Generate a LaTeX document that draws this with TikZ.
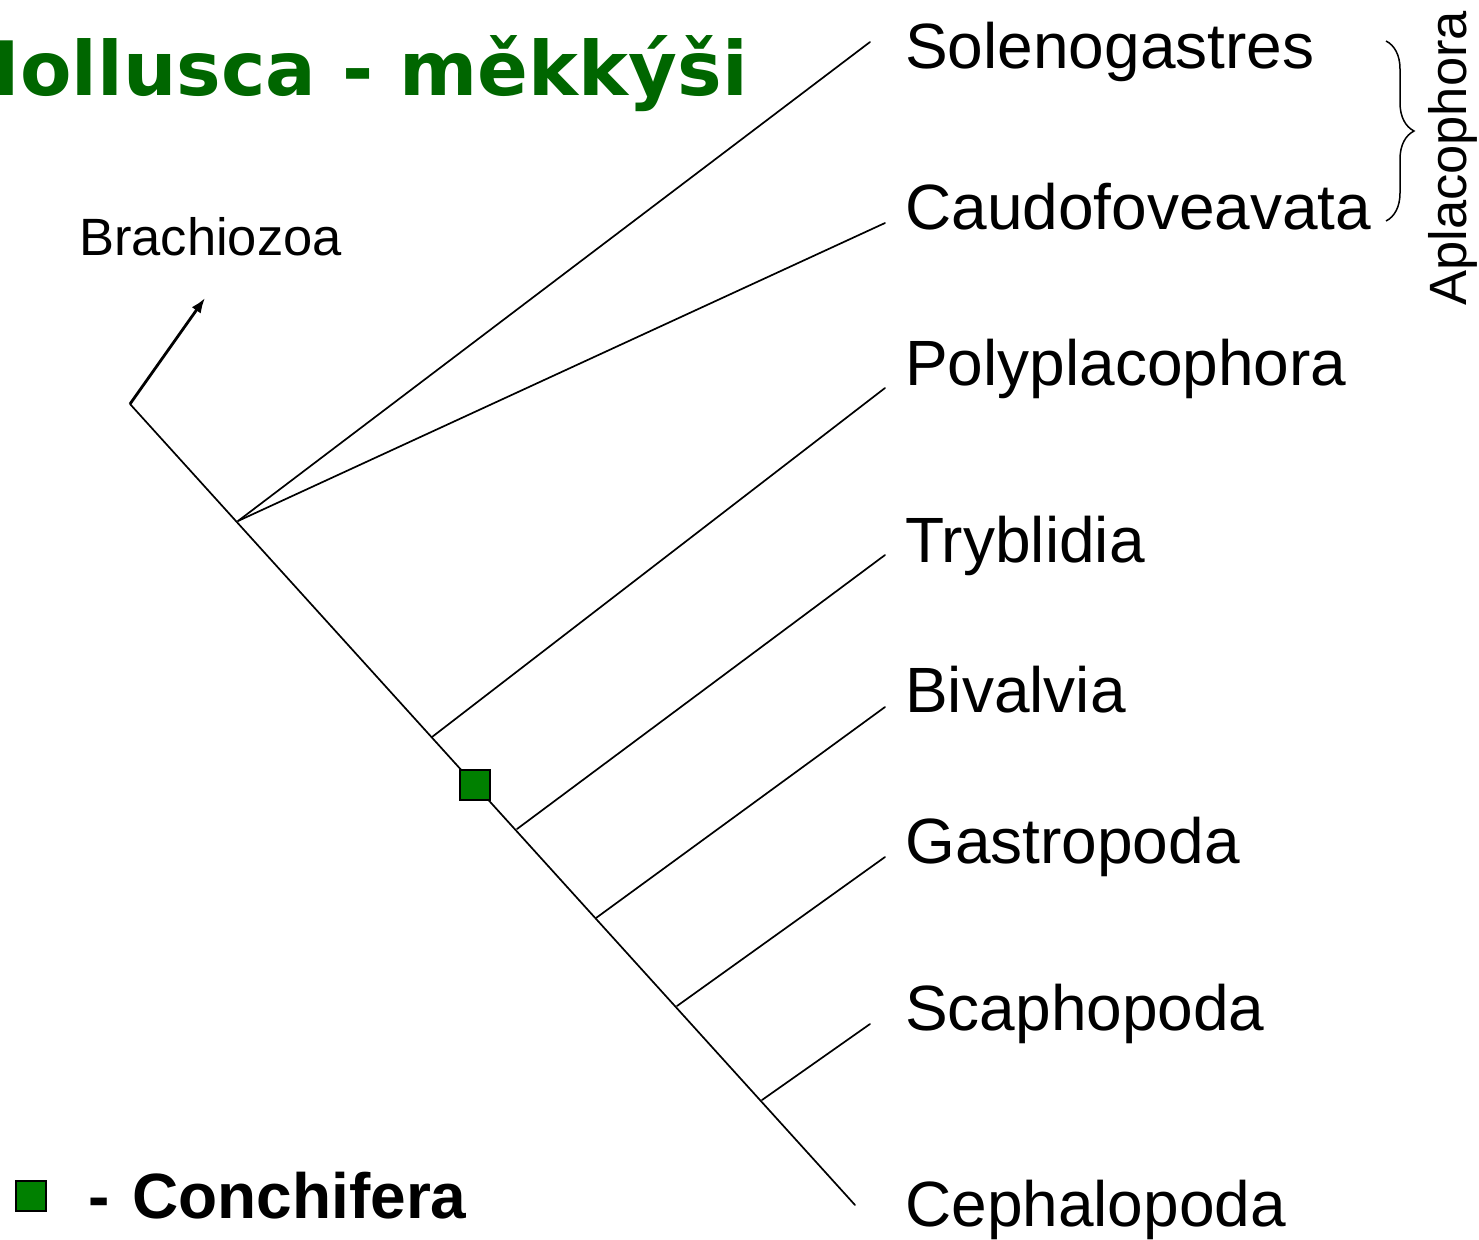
\documentclass[tikz,border=0pt]{standalone}
\usepackage{fontspec}
\setmainfont{Liberation Sans}
\newfontfamily\titlefont{DejaVu Sans}
\usetikzlibrary{arrows.meta,decorations.pathreplacing}
\definecolor{titlegreen}{HTML}{006600}
\definecolor{boxgreen}{HTML}{008000}
\begin{document}
\begin{tikzpicture}[x=1pt,y=-1pt,
  taxon/.style={anchor=base west,inner sep=0pt,font=\fontsize{64}{70}\selectfont},
  branch/.style={line width=1.7pt,line cap=round},
  marker/.style={draw=black,line width=2pt,fill=boxgreen,minimum size=30pt,inner sep=0pt}]
\clip (0,0) rectangle (1479,1239);
\useasboundingbox (0,0) rectangle (1479,1239);
% title
\node[anchor=base east,inner sep=0pt,text=titlegreen,font=\titlefont\bfseries\fontsize{75}{80}\selectfont] (title) at (748,95) {Mollusca - měkkýši};
% labels
\node[taxon] (sol) at (905,68) {Solenogastres};
\node[taxon] (cau) at (905,229) {Caudofoveavata};
\node[taxon] (pol) at (905,385) {Polyplacophora};
\node[taxon] (try) at (905,562) {Tryblidia};
\node[taxon] (biv) at (905,712) {Bivalvia};
\node[taxon] (gas) at (905,863) {Gastropoda};
\node[taxon] (sca) at (905,1030) {Scaphopoda};
\node[taxon] (cep) at (905,1226) {Cephalopoda};
\node[anchor=base west,inner sep=0pt,font=\fontsize{52.5}{56}\selectfont] (bra) at (79,255) {Brachiozoa};
\node[anchor=base west,inner sep=0pt,rotate=90,font=\fontsize{52.5}{56}\selectfont] (apl) at (1466,306) {Aplacophora};
% tree coordinates
\coordinate (root) at (130,404);
\coordinate (arrowtip) at (205,298);
\coordinate (n1) at (238,521);
\coordinate (n2) at (432,737);
\coordinate (n3) at (517,829);
\coordinate (n4) at (596,918);
\coordinate (n5) at (677,1006);
\coordinate (n6) at (762,1100);
\coordinate (tsol) at (870,42);
\coordinate (tcau) at (885,223);
\coordinate (tpol) at (885,388);
\coordinate (ttry) at (885,555);
\coordinate (tbiv) at (885,707);
\coordinate (tgas) at (885,857);
\coordinate (tsca) at (870,1024);
\coordinate (tcep) at (855,1205);
% tree
\draw[line width=2.8pt,-{Latex[length=15pt,width=11pt]}] (root) -- (arrowtip);
\draw[branch] (root) -- (tcep);
\draw[branch] (n1) -- (tsol);
\draw[branch] (n1) -- (tcau);
\draw[branch] (n2) -- (tpol);
\draw[branch] (n3) -- (ttry);
\draw[branch] (n4) -- (tbiv);
\draw[branch] (n5) -- (tgas);
\draw[branch] (n6) -- (tsca);
\node[marker] (conch) at (475,785) {};
% brace
\coordinate (btop) at (1386,41);
\coordinate (bbot) at (1386,221);
\draw[line width=1.5pt,decorate,decoration={brace,amplitude=28pt}] (btop) -- (bbot);
% legend
\node[marker] (legbox) at (31,1196) {};
\node[anchor=base west,inner sep=0pt,font=\bfseries\fontsize{64}{70}\selectfont] (legtext) at (88,1218) {-\hspace{5pt} Conchifera};
\end{tikzpicture}
\end{document}
